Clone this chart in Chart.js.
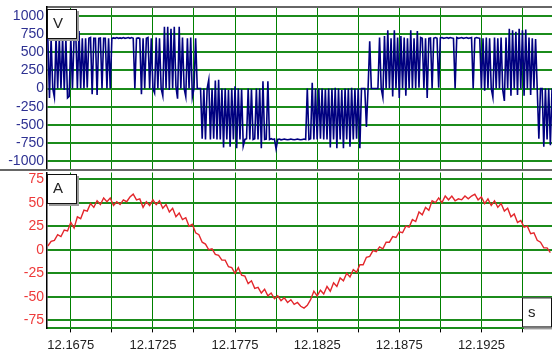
<!DOCTYPE html>
<html>
<head>
<meta charset="utf-8">
<script src="https://cdn.jsdelivr.net/npm/chart.js@4.4.1/dist/chart.umd.min.js"></script>
<style>
  body { margin: 0; background: #fff; }
  #wrap { position: relative; width: 552px; height: 358px; }
  #top { position: absolute; left: 0; top: 0; width: 552px; height: 171px; }
  #bot { position: absolute; left: 0; top: 171px; width: 552px; height: 187px; }
</style>
</head>
<body>
<div id="wrap">
  <div id="top"><canvas id="vChart"></canvas></div>
  <div id="bot"><canvas id="aChart"></canvas></div>
</div>
<script>
// time axis (s)
var xMin = 12.16605;
var xMax = 12.19680;
var xGrid = [12.1675, 12.1700, 12.1725, 12.1750, 12.1775, 12.1800, 12.1825, 12.1850, 12.1875, 12.1900, 12.1925, 12.1950];
var xLabels = ['12.1675', '12.1725', '12.1775', '12.1825', '12.1875', '12.1925'];

// tick labels of the two panels
var vTicks = [-1000, -750, -500, -250, 0, 250, 500, 750, 1000];
var aTicks = [-75, -50, -25, 0, 25, 50, 75];

// voltage (V), one sample every 0.1 ms
var vT0 = 12.1661;
var vDt = 0.0001;
var voltage = [
  700, -130, 680, 0, -120, 720, 0, 690, 0, 700,
  -20, 690, -130, -110, 700, 0, 720, 780, 0, 790,
  0, 690, 0, 690, 10, 690, 700, -80, 690, 690,
  -90, 690, 695, 0, 690, 690, 0, 690, 0, 690,
  695, 690, 700, 690, 695, 690, 700, 690, 695, 700,
  690, 700, 690, 0, 690, 695, 690, -80, 690, 0,
  690, 700, 0, 690, 0, -60, 700, 0, 690, 0,
  -100, 850, 0, 850, -20, 820, 0, 850, 30, -140,
  850, 0, 700, 0, -110, 690, 0, 700, -120, 0,
  690, 0, 0, 0, -690, 0, -700, 0, 120, -700,
  0, -690, 110, -700, 120, -700, 0, -810, 0, -700,
  -20, -800, 0, -700, 30, -820, 0, -700, -10, -790,
  -700, -690, 0, -700, -10, -700, -690, 0, -700, 0,
  -820, 100, -700, -695, 100, -700, -690, -700, -695, -830,
  -700, -695, -705, -700, -695, -700, -705, -700, -695, -700,
  -705, -700, -695, -700, -705, -700, -695, -700, 0, -700,
  -690, 80, -700, 0, -700, 0, -690, 0, -700, -10,
  -700, 0, -810, 0, -700, 10, -820, 0, -700, -20,
  -820, 0, -700, 0, -800, 10, -700, 0, -690, 0,
  -820, 0, 0, 0, -530, 0, 650, 0, 0, 0,
  0, 0, 700, 0, -120, 720, 0, 800, 0, 690,
  -110, 800, 0, 700, -130, 720, 0, 700, -100, 690,
  0, 800, 0, 690, 0, 790, 10, 700, 690, 0,
  690, -130, 690, 695, 0, 690, 700, 690, 10, 695,
  700, 690, 695, 700, 690, 700, 695, 690, 0, 700,
  690, 695, 700, 690, 695, 700, 690, 695, 700, 0,
  690, 700, 695, 690, 0, 690, -30, 700, 0, 690,
  0, -120, 700, 0, 690, 0, 700, -20, -170, 700,
  0, 820, -100, 800, 0, 780, -90, 820, 0, 800,
  -100, 810, 0, 700, -90, 690, 0, 680, 0, -690,
  0, 0, -800, 0, -700, 0, -780, 0
];

// current (A), one sample every 0.2 ms
var aT0 = 12.1661;
var aDt = 0.0002;
var current = [
  4, 9, 10, 16, 14, 21, 20, 29, 23, 35,
  33, 42, 41, 49, 45, 52, 48, 55, 51, 55,
  47, 51, 48, 53, 51, 56, 59, 53, 54, 45,
  51, 47, 53, 48, 52, 44, 48, 40, 44, 35,
  39, 32, 34, 25, 27, 18, 16, 8, 6, 0,
  1, -5, -6, -11, -11, -18, -19, -25, -19, -27,
  -28, -36, -33, -41, -40, -46, -42, -49, -46, -52,
  -49, -54, -51, -56, -53, -58, -56, -60, -62, -59,
  -53, -44, -49, -43, -47, -39, -44, -35, -39, -30,
  -33, -25, -29, -21, -24, -16, -16, -8, -7, -1,
  -2, 3, 1, 8, 8, 14, 13, 19, 18, 25,
  24, 32, 30, 40, 37, 45, 42, 52, 50, 55,
  50, 57, 53, 57, 52, 54, 53, 57, 54, 57,
  59, 53, 56, 49, 54, 47, 52, 45, 49, 41,
  44, 35, 38, 29, 31, 24, 25, 17, 18, 10,
  8, 2, 2, -3
];

var FONT = 'Liberation Sans, Arial, sans-serif';

// unit boxes + separator line
var panelDecor = {
  id: 'panelDecor',
  afterDraw: function(chart, args, opts) {
    var ctx = chart.ctx, a = chart.chartArea;
    ctx.save();
    if (opts.sepLine) {
      ctx.strokeStyle = '#666';
      ctx.lineWidth = 2;
      ctx.beginPath();
      ctx.moveTo(0, a.bottom);
      ctx.lineTo(a.right, a.bottom);
      ctx.stroke();
    }
    (opts.boxes || []).forEach(function(b) {
      var w = 30, h = 30;
      var x = b.corner == 'br' ? a.right - w : a.left;
      var y = b.corner == 'br' ? a.bottom - h - 1 : a.top + b.dy;
      ctx.fillStyle = '#9a9a9a';
      ctx.fillRect(x + 2, y + 2, w, h);
      ctx.fillStyle = '#fff';
      ctx.fillRect(x, y, w, h);
      ctx.strokeStyle = '#111';
      ctx.lineWidth = 1;
      ctx.strokeRect(x + 0.5, y + 0.5, w - 1, h - 1);
      ctx.fillStyle = '#222';
      ctx.font = '15px ' + FONT;
      ctx.textBaseline = 'middle';
      ctx.fillText(b.text, x + 6, y + h / 2);
    });
    ctx.restore();
  }
};

function setTicks(list) {
  return function(scale) { scale.ticks = list.map(function(v) { return { value: v }; }); };
}
function yFit(s) { s.width = 47; s.paddingTop = 0; s.paddingBottom = 0; }
function xFit(s) { s.paddingLeft = 0; s.paddingRight = 0; }

// ---------------- top: voltage ----------------
new Chart(document.getElementById('vChart'), {
  type: 'line',
  data: {
    datasets: [{
      data: voltage.map(function(v, j) { return { x: vT0 + j * vDt, y: v }; }),
      borderColor: '#000080',
      borderWidth: 1.6,
      pointRadius: 0,
      tension: 0
    }]
  },
  options: {
    responsive: true,
    maintainAspectRatio: false,
    animation: false,
    layout: { padding: { top: 7, bottom: 1, left: 0, right: 0 } },
    plugins: {
      legend: { display: false },
      tooltip: { enabled: false },
      panelDecor: { sepLine: true, boxes: [{ text: 'V', corner: 'tl', dy: 2 }] }
    },
    scales: {
      x: {
        type: 'linear', position: 'top', min: xMin, max: xMax,
        afterBuildTicks: setTicks(xGrid),
        afterFit: xFit,
        ticks: { display: false },
        grid: { color: '#008000', lineWidth: 1, drawTicks: false },
        border: { display: true, color: '#666', width: 2 }
      },
      y: {
        min: -1120, max: 1120,
        afterBuildTicks: setTicks(vTicks),
        afterFit: yFit,
        ticks: { autoSkip: false, color: '#2e3192', font: { family: FONT, size: 14 }, padding: 3,
                 callback: function(v) { return String(v); } },
        grid: { color: '#1b8c1b', lineWidth: 2, drawTicks: false },
        border: { display: true, color: '#000', width: 1.5 }
      }
    }
  },
  plugins: [panelDecor]
});

// ---------------- bottom: current ----------------
new Chart(document.getElementById('aChart'), {
  type: 'line',
  data: {
    datasets: [{
      data: current.map(function(v, i) { return { x: aT0 + i * aDt, y: v }; }),
      borderColor: '#e3262b',
      borderWidth: 1.4,
      pointRadius: 0,
      tension: 0
    }]
  },
  options: {
    responsive: true,
    maintainAspectRatio: false,
    animation: false,
    layout: { padding: { top: 1.5, bottom: 0, left: 0, right: 0 } },
    plugins: {
      legend: { display: false },
      tooltip: { enabled: false },
      panelDecor: { boxes: [{ text: 'A', corner: 'tl', dy: 1.5 }, { text: 's', corner: 'br' }] }
    },
    scales: {
      x: {
        type: 'linear', min: xMin, max: xMax,
        afterBuildTicks: setTicks(xGrid),
        afterFit: xFit,
        ticks: {
          autoSkip: false, maxRotation: 0, color: '#222', padding: 5,
          font: { family: FONT, size: 13 },
          callback: function(v) { var s = v.toFixed(4); return xLabels.indexOf(s) >= 0 ? s : ''; }
        },
        grid: { color: '#008000', lineWidth: 1, tickColor: '#000', tickLength: 4 },
        border: { display: true, color: '#1b8c1b', width: 2 }
      },
      y: {
        min: -83.5, max: 82,
        afterBuildTicks: setTicks(aTicks),
        afterFit: yFit,
        ticks: { autoSkip: false, color: '#ee3a3a', font: { family: FONT, size: 14 }, padding: 3,
                 callback: function(v) { return String(v); } },
        grid: { color: '#1b8c1b', lineWidth: 2, drawTicks: false },
        border: { display: true, color: '#000', width: 1.5 }
      }
    }
  },
  plugins: [panelDecor]
});
</script>
</body>
</html>
